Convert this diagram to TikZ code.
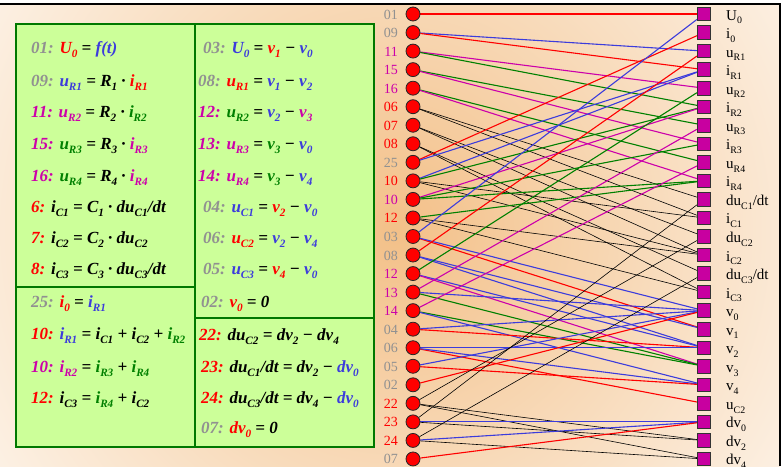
\documentclass[tikz,border=0pt]{standalone}
\usepackage{fontspec}
\usepackage{graphicx}
\setmainfont{Liberation Serif}
\definecolor{cgray}{RGB}{145,145,145}
\definecolor{cred}{RGB}{255,0,0}
\definecolor{cblue}{RGB}{60,60,220}
\definecolor{cgreen}{RGB}{0,128,0}
\definecolor{cmag}{RGB}{204,0,170}
\definecolor{panelfill}{RGB}{204,255,153}
\definecolor{pborder}{RGB}{0,120,0}
\definecolor{sqfill}{RGB}{200,0,160}
\definecolor{peach}{RGB}{243,192,136}
\newcommand\dn[1]{\raisebox{-0.25em}{\scalebox{0.66}{#1}}}
\newcommand\gr[1]{\textcolor{cgray}{#1}}
\newcommand\rd[1]{\textcolor{cred}{#1}}
\newcommand\bl[1]{\textcolor{cblue}{#1}}
\newcommand\gn[1]{\textcolor{cgreen}{#1}}
\newcommand\mg[1]{\textcolor{cmag}{#1}}
\pgfdeclarelayer{bglayer}
\pgfdeclarelayer{edgelayer}
\pgfsetlayers{bglayer,edgelayer,main}
\tikzset{
  dot/.style={circle,draw=black!85,line width=0.8pt,fill=cred,minimum size=14pt,inner sep=0pt},
  sqr/.style={rectangle,draw=black!80,line width=0.8pt,fill=sqfill,minimum size=13.5pt,inner sep=0pt},
  llab/.style={anchor=base east,inner sep=0pt,font=\fontsize{14}{14}\selectfont},
  rlab/.style={anchor=base west,inner sep=0pt,font=\fontsize{15}{15}\selectfont},
  eq/.style={anchor=base west,inner sep=0pt,font=\fontsize{17}{17}\bfseries\itshape\selectfont},
  er/.style={draw=cred,line width=1.1pt},
  eb/.style={draw=cblue,line width=1.1pt},
  eg/.style={draw=cgreen,line width=1.1pt},
  em/.style={draw=cmag,line width=1.1pt},
  ek/.style={draw=black,line width=0.6pt},
  pline/.style={draw=pborder,line width=2pt}
}
\begin{document}
\begin{tikzpicture}[x=1pt,y=-1pt]
\useasboundingbox (0,0) rectangle (784,466);
\begin{pgfonlayer}{bglayer}
\begin{scope}
\clip (0,4) rectangle (780,466);
\shade[inner color=peach,outer color=white] (395,230) circle (600pt);
\end{scope}
\end{pgfonlayer}
\draw[line width=1.2pt] (0,4) -- (780,4) -- (780,466);
% panel
\path[fill=panelfill] (16,24) rectangle (374,447);
\draw[pline] (16,24) rectangle (374,447);
\draw[pline] (195,24) -- (195,447);
\draw[pline] (16,287) -- (195,287);
\draw[pline] (195,318) -- (374,318);
% left column equations
\node[eq] (e1) at (31,53) {\gr{01:} \rd{U\dn{0}} = \bl{f(t)}};
\node[eq] (e2) at (31,86) {\gr{09:} \bl{u\dn{R1}} = R\dn{1} · \rd{i\dn{R1}}};
\node[eq] (e3) at (31,117) {\mg{11:} \mg{u\dn{R2}} = R\dn{2} · \gn{i\dn{R2}}};
\node[eq] (e4) at (31,149) {\mg{15:} \gn{u\dn{R3}} = R\dn{3} · \mg{i\dn{R3}}};
\node[eq] (e5) at (31,181) {\mg{16:} \gn{u\dn{R4}} = R\dn{4} · \mg{i\dn{R4}}};
\node[eq] (e6) at (31,212) {\rd{6:} i\dn{C1} = C\dn{1} · du\dn{C1}/dt};
\node[eq] (e7) at (31,243) {\rd{7:} i\dn{C2} = C\dn{2} · du\dn{C2}};
\node[eq] (e8) at (31,274) {\rd{8:} i\dn{C3} = C\dn{3} · du\dn{C3}/dt};
\node[eq] (e9) at (31,307) {\gr{25:} \rd{i\dn{0}} = \bl{i\dn{R1}}};
\node[eq] (e10) at (31,339) {\rd{10:} \bl{i\dn{R1}} = i\dn{C1} + i\dn{C2} + \gn{i\dn{R2}}};
\node[eq] (e11) at (31,372) {\mg{10:} \mg{i\dn{R2}} = \gn{i\dn{R3}} + \gn{i\dn{R4}}};
\node[eq] (e12) at (31,403) {\rd{12:} i\dn{C3} = \gn{i\dn{R4}} + i\dn{C2}};
% right column equations
\node[eq] (f1) at (203,53) {\gr{03:} \bl{U\dn{0}} = \rd{v\dn{1}} − \bl{v\dn{0}}};
\node[eq] (f2) at (198,86) {\gr{08:} \rd{u\dn{R1}} = \bl{v\dn{1}} − \bl{v\dn{2}}};
\node[eq] (f3) at (198,117) {\mg{12:} \gn{u\dn{R2}} = \bl{v\dn{2}} − \mg{v\dn{3}}};
\node[eq] (f4) at (198,149) {\mg{13:} \mg{u\dn{R3}} = \gn{v\dn{3}} − \bl{v\dn{0}}};
\node[eq] (f5) at (198,181) {\mg{14:} \mg{u\dn{R4}} = \gn{v\dn{3}} − \bl{v\dn{4}}};
\node[eq] (f6) at (203,212) {\gr{04:} \bl{u\dn{C1}} = \rd{v\dn{2}} − \bl{v\dn{0}}};
\node[eq] (f7) at (203,243) {\gr{06:} \rd{u\dn{C2}} = \bl{v\dn{2}} − \bl{v\dn{4}}};
\node[eq] (f8) at (203,274) {\gr{05:} \bl{u\dn{C3}} = \rd{v\dn{4}} − \bl{v\dn{0}}};
\node[eq] (f9) at (201,307) {\gr{02:} \rd{v\dn{0}} = 0};
\node[eq] (f10) at (199,340) {\rd{22:} du\dn{C2} = dv\dn{2} − dv\dn{4}};
\node[eq] (f11) at (201,372) {\rd{23:} du\dn{C1}/dt = dv\dn{2} − \bl{dv\dn{0}}};
\node[eq] (f12) at (201,403) {\rd{24:} du\dn{C3}/dt = dv\dn{4} − \bl{dv\dn{0}}};
\node[eq] (f13) at (201,433) {\gr{07:} \rd{dv\dn{0}} = 0};
% left dots
\foreach \lab/\col [count=\k] in {01/cgray,09/cgray,11/cmag,15/cmag,16/cmag,06/cred,07/cred,08/cred,25/cgray,10/cred,10/cmag,12/cred,03/cgray,08/cgray,12/cmag,13/cmag,14/cmag,04/cgray,06/cgray,05/cgray,02/cgray,22/cred,23/cred,24/cred,07/cgray}{
  \pgfmathsetmacro\yy{14+(\k-1)*18.54}
  \node[dot] (c\k) at (413,\yy) {};
  \node[llab,text=\col] (l\k) at (398,\yy+5) {\lab};
}
% right squares
\foreach \t [count=\k] in {{U\dn{0}},{i\dn{0}},{u\dn{R1}},{i\dn{R1}},{u\dn{R2}},{i\dn{R2}},{u\dn{R3}},{i\dn{R3}},{u\dn{R4}},{i\dn{R4}},{du\dn{C1}/dt},{i\dn{C1}},{du\dn{C2}},{i\dn{C2}},{du\dn{C3}/dt},{i\dn{C3}},{v\dn{0}},{v\dn{1}},{v\dn{2}},{v\dn{3}},{v\dn{4}},{u\dn{C2}},{dv\dn{0}},{dv\dn{2}},{dv\dn{4}}}{
  \pgfmathsetmacro\yy{14+(\k-1)*18.54}
  \node[sqr] (s\k) at (704,\yy) {};
  \node[rlab] (t\k) at (726,\yy+6) {\t};
}
% edges
\begin{pgfonlayer}{edgelayer}
\draw[er] (c1) -- (s1);
\draw[eb] (c2) -- (s3); \draw[er] (c2) -- (s4);
\draw[em] (c3) -- (s5); \draw[eg] (c3) -- (s6);
\draw[eg] (c4) -- (s7); \draw[em] (c4) -- (s8);
\draw[eg] (c5) -- (s9); \draw[em] (c5) -- (s10);
\draw[ek] (c6) -- (s12); \draw[ek] (c6) -- (s11);
\draw[ek] (c7) -- (s14); \draw[ek] (c7) -- (s13);
\draw[ek] (c8) -- (s16); \draw[ek] (c8) -- (s15);
\draw[er] (c9) -- (s2); \draw[eb] (c9) -- (s4);
\draw[eb] (c10) -- (s4); \draw[ek] (c10) -- (s12); \draw[ek] (c10) -- (s14); \draw[eg] (c10) -- (s6);
\draw[em] (c11) -- (s6); \draw[eg] (c11) -- (s8); \draw[eg] (c11) -- (s10);
\draw[ek] (c12) -- (s16); \draw[eg] (c12) -- (s10); \draw[ek] (c12) -- (s14);
\draw[eb] (c13) -- (s1); \draw[er] (c13) -- (s18); \draw[eb] (c13) -- (s17);
\draw[er] (c14) -- (s3); \draw[eb] (c14) -- (s18); \draw[eb] (c14) -- (s19);
\draw[eg] (c15) -- (s5); \draw[eb] (c15) -- (s19); \draw[em] (c15) -- (s20);
\draw[em] (c16) -- (s7); \draw[eg] (c16) -- (s20); \draw[eb] (c16) -- (s17);
\draw[em] (c17) -- (s9); \draw[eg] (c17) -- (s20); \draw[eb] (c17) -- (s21);
\draw[er] (c18) -- (s19); \draw[eb] (c18) -- (s17);
\draw[er] (c19) -- (s22); \draw[eb] (c19) -- (s19); \draw[eb] (c19) -- (s21);
\draw[er] (c20) -- (s21); \draw[eb] (c20) -- (s17);
\draw[er] (c21) -- (s17);
\draw[ek] (c22) -- (s13); \draw[ek] (c22) -- (s24); \draw[ek] (c22) -- (s25);
\draw[ek] (c23) -- (s11); \draw[ek] (c23) -- (s24); \draw[eb] (c23) -- (s23);
\draw[ek] (c24) -- (s15); \draw[ek] (c24) -- (s25); \draw[eb] (c24) -- (s23);
\draw[er] (c25) -- (s23);
\end{pgfonlayer}
\end{tikzpicture}
\end{document}
